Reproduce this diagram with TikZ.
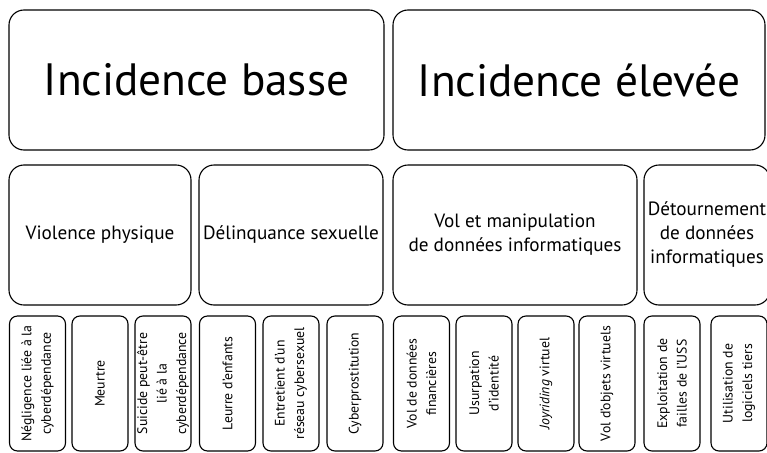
\documentclass[tikz,border=0pt]{standalone}
\usepackage{fontspec}
\setmainfont{PT Sans}
\usepackage{tikz}

\begin{document}
\begin{tikzpicture}[x=1pt,y=-1pt,
  line width=1.1pt,
  box/.style={draw=black, rounded corners=15pt, outer sep=0pt, inner sep=2pt, align=center},
  bigbox/.style={box, minimum height=140pt, font=\fontsize{45.3}{52}\selectfont},
  midbox/.style={box, minimum height=140pt, font=\fontsize{19.2}{24}\selectfont},
  leafbox/.style={box, rounded corners=8pt, rotate=90, minimum width=135pt, minimum height=56pt, font=\fontsize{13.8}{19.5}\selectfont}]

% page frame
\useasboundingbox (0,0) rectangle (767,452);
\clip (0,0) rectangle (767,452);

% top row : incidence
\node[bigbox, minimum width=375pt] (low)  at (196.5, 80) {Incidence basse};
\node[bigbox, minimum width=372pt] (high) at (579.0, 80) {Incidence élevée};

% middle row : categories
\node[midbox, minimum width=182pt] (violence) at (100.0, 235) {Violence physique};
\node[midbox, minimum width=184pt] (sexual)   at (291.0, 235) {Délinquance sexuelle};
\node[midbox, minimum width=244pt] (theft)    at (515.0, 235) {Vol et manipulation\\de données informatiques};
\node[midbox, minimum width=126pt] (misuse)   at (707.0, 235) {Détournement\\de données\\informatiques};

% bottom row : acts (text turned by 90 degrees)
\node[leafbox] (neglect)      at ( 37.5, 383.5) {Négligence liée à la\\cyberdépendance};
\node[leafbox] (murder)       at (100.0, 383.5) {Meurtre};
\node[leafbox] (suicide)      at (163.0, 383.5) {Suicide peut-être\\lié à la\\cyberdépendance};
\node[leafbox] (lure)         at (227.5, 383.5) {Leurre d'enfants};
\node[leafbox] (network)      at (291.0, 383.5) {Entretient d'un\\réseau cybersexuel};
\node[leafbox] (prostitution) at (355.0, 383.5) {Cyberprostitution};
\node[leafbox] (financial)    at (421.5, 383.5) {Vol de données\\financières};
\node[leafbox] (identity)     at (484.0, 383.5) {Usurpation\\d'identité};
\node[leafbox] (joyriding)    at (546.0, 383.5) {\textit{Joyriding} virtuel};
\node[leafbox] (objects)      at (607.0, 383.5) {Vol d'objets virtuels};
\node[leafbox] (exploit)      at (672.0, 383.5) {Exploitation de\\failles de l'USS};
\node[leafbox] (thirdparty)   at (739.0, 383.5) {Utilisation de\\logiciels tiers};

\end{tikzpicture}
\end{document}
